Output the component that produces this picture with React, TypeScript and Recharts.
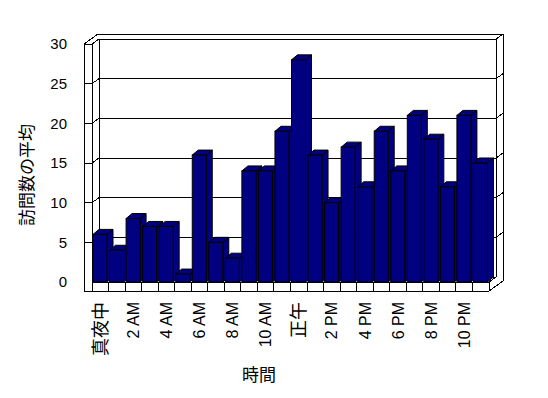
import React from 'react';
import * as R from 'recharts';

const { BarChart, Bar, XAxis, YAxis, Customized } = R as any;

const hours = [
  '真夜中', '1 AM', '2 AM', '3 AM', '4 AM', '5 AM', '6 AM', '7 AM', '8 AM', '9 AM', '10 AM', '11 AM',
  '正午', '1 PM', '2 PM', '3 PM', '4 PM', '5 PM', '6 PM', '7 PM', '8 PM', '9 PM', '10 PM', '11 PM',
];
const visits = [6, 4, 8, 7, 7, 1, 16, 5, 3, 14, 14, 19, 28, 16, 10, 17, 12, 19, 14, 21, 18, 12, 21, 15];
const yTicks = [0, 5, 10, 15, 20, 25, 30];
const yTitle = '訪問数の平均';
const xTitle = '時間';

const data = hours.map((h, i) => ({ hour: h, visits: visits[i] }));

const W = 548;
const H = 398;
const YMAX = 30;
const FONT = "'Liberation Sans', 'Noto Sans CJK JP', sans-serif";
const CJK_FONT = "'Noto Sans CJK JP', sans-serif";

const usePA: any = (R as any).usePlotArea;

function Walls() {
  const pa = usePA ? usePA() : undefined;
  const L = pa?.x ?? 92;
  const Tp = pa?.y ?? 44;
  const w = pa?.width ?? 397;
  const h = pa?.height ?? 238;
  const Rt = L + w;
  const B = Tp + h;
  const DX = 7, DY = 5, T = 8, F = 9;
  const n = data.length;
  const step = w / n;
  const lines: Array<[number, number, number, number]> = [];
  // left wall
  lines.push([L - T, Tp, L - T, B + F]);
  lines.push([L, Tp, L, B]);
  lines.push([L - T, Tp, L, Tp]);
  lines.push([L - T, Tp, L - T + 2 * DX, Tp - 2 * DY]);
  lines.push([L, Tp, L + DX, Tp - DY]);
  // back wall top
  lines.push([L - T + 2 * DX, Tp - 2 * DY, Rt + 2 * DX, Tp - 2 * DY]);
  lines.push([L + DX, Tp - DY, Rt + DX, Tp - DY]);
  // right side
  lines.push([Rt + DX, Tp - DY, Rt + 2 * DX, Tp - 2 * DY]);
  lines.push([Rt + DX, Tp - DY, Rt + DX, B - DY]);
  lines.push([Rt + 2 * DX, Tp - 2 * DY, Rt + 2 * DX, B + F - 2 * DY]);
  // back inner corner
  lines.push([L + DX, Tp - DY, L + DX, B - DY]);
  // floor
  lines.push([L + DX, B - DY, Rt + DX, B - DY]);
  lines.push([L, B, Rt, B]);
  lines.push([L - T, B + F, Rt, B + F]);
  lines.push([Rt, B, Rt + DX, B - DY]);
  lines.push([Rt, B + F, Rt + 2 * DX, B + F - 2 * DY]);
  for (let i = 0; i <= n; i++) {
    const xi = L + i * step;
    lines.push([xi, B, xi, B + F]);
  }
  // gridlines
  yTicks.forEach((v) => {
    if (v === 0) return;
    const yv = B - (h * v) / YMAX;
    lines.push([L - T, yv, L, yv]);
    lines.push([L, yv, L + DX, yv - DY]);
    lines.push([L + DX, yv - DY, Rt + DX, yv - DY]);
    lines.push([Rt + DX, yv - DY, Rt + 2 * DX, yv - 2 * DY]);
  });
  return (
    <g>
      <g stroke="#000" strokeWidth={1} shapeRendering="crispEdges">
        {lines.map((l, i) => (
          <line key={i} x1={l[0]} y1={l[1]} x2={l[2]} y2={l[3]} />
        ))}
      </g>
      <text
        x={25}
        y={175}
        transform="rotate(-90, 25, 175)"
        textAnchor="middle"
        dominantBaseline="central"
        fontSize={17}
        fontFamily={CJK_FONT}
        fill="#000"
      >
        {yTitle}
      </text>
      <text x={259} y={381} textAnchor="middle" fontSize={17} fontFamily={CJK_FONT} fill="#000">
        {xTitle}
      </text>
    </g>
  );
}

const Bar3D = (props: any) => {
  const { x, y, width, height } = props;
  if (x == null || y == null || !width) return null;
  const dx = 6, dy = 5;
  const side = `M${x + width},${y} L${x + width + dx},${y - dy} L${x + width + dx},${y + height - dy} L${x + width},${y + height} Z`;
  const top = `M${x},${y} L${x + dx},${y - dy} L${x + width + dx},${y - dy} L${x + width},${y} Z`;
  return (
    <g stroke="#000" strokeWidth={1} fill="#000080" strokeLinejoin="miter">
      <path d={side} />
      <path d={top} />
      <rect x={x} y={y} width={width} height={height} />
    </g>
  );
};

const XTick = (props: any) => {
  const { x, y, payload } = props;
  const v = String(payload.value);
  const cjk = /[^\x00-\x7F]/.test(v);
  return (
    <text
      x={x}
      y={y}
      transform={`rotate(-90, ${x}, ${y})`}
      textAnchor="end"
      dy="0.35em"
      fontSize={cjk ? 18 : 16}
      fontFamily={cjk ? CJK_FONT : FONT}
      fill="#000"
    >
      {v}
    </text>
  );
};

const YTick = (props: any) => {
  const { x, y, payload } = props;
  return (
    <text x={x} y={y} textAnchor="end" dy="0.35em" fontSize={15} fontFamily={FONT} fill="#000">
      {payload.value}
    </text>
  );
};

export default function App() {
  return (
    <div style={{ position: 'absolute', left: 0, top: 0, width: W, height: H, background: '#fff' }}>
      <BarChart
        width={W}
        height={H}
        data={data}
        margin={{ top: 44, right: 59, left: 0, bottom: 0 }}
        barSize={14}
      >
        <Customized component={<Walls />} />
        <XAxis
          dataKey="hour"
          interval={1}
          height={116}
          axisLine={false}
          tickLine={false}
          tickSize={6}
          tickMargin={14}
          tick={<XTick />}
        />
        <YAxis
          domain={[0, YMAX]}
          ticks={yTicks}
          width={92}
          axisLine={false}
          tickLine={false}
          tickSize={6}
          tickMargin={19}
          tick={<YTick />}
        />
        <Bar dataKey="visits" isAnimationActive={false} shape={<Bar3D />} />
      </BarChart>
    </div>
  );
}
